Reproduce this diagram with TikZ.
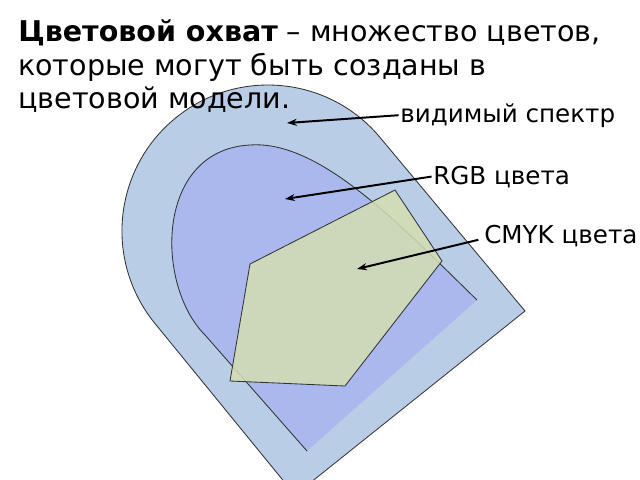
\documentclass[tikz,border=0pt]{standalone}
\usepackage{fontspec}
\setmainfont{DejaVu Sans}
\usetikzlibrary{arrows.meta,patterns}
\definecolor{specfill}{RGB}{186,205,230}
\definecolor{rgbfill}{RGB}{170,184,238}
\definecolor{cmykfill}{RGB}{212,222,178}
\begin{document}
\begin{tikzpicture}[x=0.025cm,y=-0.025cm,
    gamut/.style={draw=black!80,line width=0.6pt},
    pointer/.style={-{Stealth[length=7pt,width=5pt]},line width=1.4pt},
    headline/.style={anchor=base west,inner sep=0pt,font=\fontsize{20.3}{24}\selectfont},
    tag/.style={anchor=base west,inner sep=0pt,font=\fontsize{17.5}{21}\selectfont}]
  \useasboundingbox (0,0) rectangle (640,480);
  \clip (0,0) rectangle (640,480);
  % visible spectrum
  \draw[gamut,fill=specfill] (154.5,322.9) arc[start angle=141,end angle=321,radius=146]
    -- (525,311) -- (295,495) -- cycle;
  % rgb gamut, open at the bottom
  \fill[rgbfill] (307,451) -- (205,335) .. controls (155,285) and (155,150) .. (250,145)
    .. controls (320,140) and (400,225) .. (477,300) -- cycle;
  \draw[gamut] (307,451) -- (205,335) .. controls (155,285) and (155,150) .. (250,145)
    .. controls (320,140) and (400,225) .. (477,300);
  % cmyk gamut
  \draw[gamut,fill=cmykfill,fill opacity=0.85] (395,190) -- (442,261) -- (345,386)
    -- (230,381) -- (250,264) -- cycle;
  % title
  \node[headline] (title1) at (18,42) {\textbf{Цветовой охват} – множество цветов,};
  \node[headline] (title2) at (18,75) {которые могут быть созданы в};
  \node[headline] (title3) at (18,108) {цветовой модели.};
  % labels and arrows
  \node[tag] (visible) at (400,122) {видимый спектр};
  \node[tag] (rgb) at (433,184) {RGB цвета};
  \node[tag] (cmyk) at (484,243) {CMYK цвета};
  \coordinate (pVisible) at (287,123);
  \coordinate (pRgb) at (285,199);
  \coordinate (pCmyk) at (357,269);
  \draw[pointer] ([xshift=-1pt]visible.west) -- (pVisible);
  \draw[pointer] ([xshift=-1pt]rgb.west) -- (pRgb);
  \draw[pointer] ([xshift=-4pt,yshift=-3pt]cmyk.west) -- (pCmyk);
\end{tikzpicture}
\end{document}
